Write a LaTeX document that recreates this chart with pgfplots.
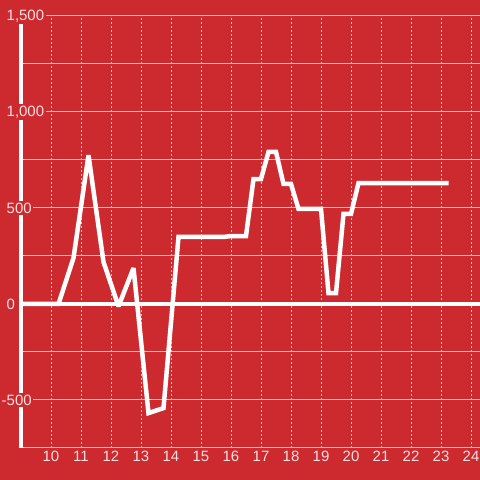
\documentclass[border=0pt]{standalone}
\usepackage{fontspec}
\setmainfont{Liberation Sans}
\usepackage{pgfplots}
\pgfplotsset{compat=1.18}
\definecolor{bg}{RGB}{204,42,46}
\definecolor{gridc}{RGB}{205,205,205}
\definecolor{txt}{RGB}{245,225,225}

\begin{document}
\begin{tikzpicture}
\begin{axis}[
  at={(21bp,32bp)}, anchor=south west,
  scale only axis, width=459bp, height=432bp,
  xmin=9, xmax=24.3, ymin=-750, ymax=1500,
  set layers, clip mode=individual,
  axis lines=left, axis line style={-},
  x axis line style={draw=none},
  y axis line style={draw=white, line width=4bp},
  major tick length=0pt, minor tick length=0pt,
  tick style={draw=none},
  xtick={10,...,24},
  ytick={-500,500,1000,1500},
  yticklabels={\llap{-}500,500,{1,000},{1,500}},
  minor ytick={-750,-500,-250,250,500,750,1000,1250,1500},
  extra y ticks={0},
  extra y tick labels={0},
  extra y tick style={ymajorgrids=true, major grid style={draw=white, line width=4bp, solid}},
  xmajorgrids, yminorgrids, ymajorgrids=false,
  major grid style={draw=gridc, line width=1bp, dash pattern=on 2bp off 2bp},
  minor grid style={draw=gridc, line width=1bp, solid},
  /pgf/number format/assume math mode=true,
  ticklabel style={font=\fontsize{15}{18}\selectfont, text=txt},
  yticklabel style={anchor=west, xshift=-16bp, fill=bg, inner sep=1.5bp},
]
\begin{pgfonlayer}{axis background}
\fill[bg] ([shift={(-21bp,-32bp)}]rel axis cs:0,0) rectangle ([shift={(0bp,16bp)}]rel axis cs:1,1);
\end{pgfonlayer}
% hourly series
\addplot[white, line width=4.5bp, line join=miter, miter limit=2, mark=none] coordinates {
  (9,0) (10.25,0) (10.75,240) (11.25,775) (11.75,219) (12.25,-12)
  (12.75,187) (13.25,-568) (13.75,-542) (14.25,349) (15.75,349)
  (16,354) (16.5,354) (16.75,651) (17,651) (17.25,792) (17.5,792)
  (17.75,625) (18,625) (18.25,495) (19,495) (19.25,57) (19.5,57)
  (19.75,469) (20,469) (20.25,630) (23.25,630)
};
\end{axis}
\pgfresetboundingbox
\useasboundingbox ([shift={(-21bp,-32bp)}]current axis.south west) rectangle ([shift={(0bp,16bp)}]current axis.north east);
\end{tikzpicture}
\end{document}
